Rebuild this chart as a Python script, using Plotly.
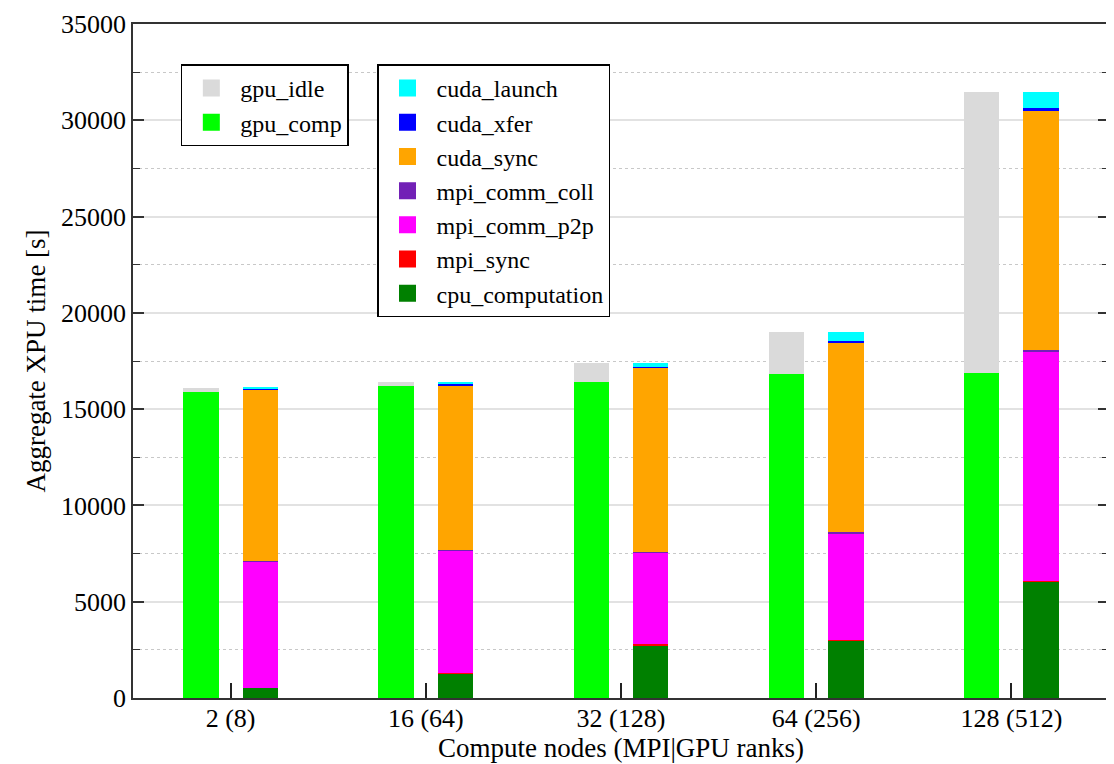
import plotly.graph_objects as go

categories = ["2 (8)", "16 (64)", "32 (128)", "64 (256)", "128 (512)"]

# GPU bar components [s]
gpu_comp = [15900, 16200, 16420, 16830, 16900]
gpu_idle = [195, 220, 980, 2160, 14570]

# CPU/host bar components [s]
cpu_computation = [530, 1270, 2750, 2990, 6030]
mpi_sync = [10, 50, 50, 20, 20]
mpi_comm_p2p = [6550, 6350, 4780, 5530, 11950]
mpi_comm_coll = [10, 20, 20, 60, 80]
cuda_sync = [8926, 8559, 9554, 9858, 12407]
cuda_xfer = [20, 60, 30, 80, 170]
cuda_launch = [60, 110, 210, 450, 810]

y_ticks = [0, 5000, 10000, 15000, 20000, 25000, 30000, 35000]

FONT = "Liberation Serif"
OFF = 0.152
W = 0.181

idx = list(range(len(categories)))
x_gpu = [i - OFF for i in idx]
x_cpu = [i + OFF for i in idx]

fig = go.Figure()

gpu_series = [("gpu_comp", gpu_comp, "#00ff00"), ("gpu_idle", gpu_idle, "#dadada")]
cpu_series = [
    ("cpu_computation", cpu_computation, "#008000"),
    ("mpi_sync", mpi_sync, "#ff0000"),
    ("mpi_comm_p2p", mpi_comm_p2p, "#ff00ff"),
    ("mpi_comm_coll", mpi_comm_coll, "#7221b6"),
    ("cuda_sync", cuda_sync, "#ffa500"),
    ("cuda_xfer", cuda_xfer, "#0000ff"),
    ("cuda_launch", cuda_launch, "#00ffff"),
]

for group_x, series, leg in ((x_gpu, gpu_series, "legend"), (x_cpu, cpu_series, "legend2")):
    for name, vals, col in series:
        fig.add_trace(go.Bar(x=group_x, y=vals, width=W, name=name, marker_color=col,
                             marker_line_width=0, showlegend=False, legendgroup=name))
        # legend-only entry with a larger swatch
        fig.add_trace(go.Bar(x=[None], y=[None], name=name, marker_color=col,
                             marker_line=dict(color=col, width=5), legend=leg,
                             legendgroup=name, showlegend=True))

legend_common = dict(
    bgcolor="white", bordercolor="black", borderwidth=1.5,
    font=dict(family=FONT, size=24, color="black"),
    traceorder="reversed", xanchor="left", yanchor="top",
    itemwidth=48, tracegroupgap=0,
)

fig.update_layout(
    width=1106, height=756,
    barmode="stack",
    plot_bgcolor="white", paper_bgcolor="white",
    margin=dict(l=125, r=5, t=16, b=66, autoexpand=False),
    font=dict(family=FONT, size=26, color="black"),
    legend=dict(x=0.049, y=0.94, **legend_common),
    legend2=dict(x=0.25, y=0.94, **legend_common),
    xaxis=dict(
        range=[-0.5, 4.5], tickvals=idx, ticktext=categories, automargin=False,
        ticks="inside", ticklen=15, tickwidth=1.5, tickcolor="#222",
        showline=True, linecolor="#333", linewidth=1.5, mirror=True,
        showgrid=False, zeroline=False, ticklabelstandoff=-4,
        tickfont=dict(family=FONT, size=26),
        title=dict(text="Compute nodes (MPI|GPU ranks)", font=dict(family=FONT, size=27), standoff=6),
    ),
    yaxis=dict(
        range=[0, 35000], tickmode="array", tickvals=y_ticks, automargin=False,
        ticktext=[str(v) for v in y_ticks], ticklabeloverflow="allow",
        ticks="inside", ticklen=11, tickwidth=1.5, tickcolor="#333",
        showline=True, linecolor="#333", linewidth=1.5, mirror="ticks",
        showgrid=True, gridcolor="#e2e2e2", gridwidth=1.5, zeroline=False,
        tickfont=dict(family=FONT, size=26),
        minor=dict(dtick=2500, ticks="inside", ticklen=7, tickcolor="#333", tickwidth=1,
                   showgrid=True, gridcolor="#c8c8c8", griddash="dot", gridwidth=1),
        title=dict(text="Aggregate XPU time [s]", font=dict(family=FONT, size=27), standoff=8),
    ),
)

fig.write_html("out.html")
